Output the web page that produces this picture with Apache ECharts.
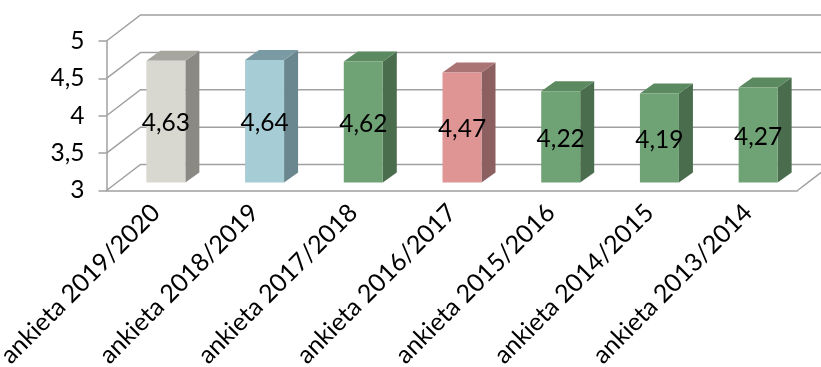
<!DOCTYPE html>
<html><head><meta charset="utf-8">
<script src="https://cdn.jsdelivr.net/npm/echarts@6/dist/echarts.min.js"></script>
<style>html,body{margin:0;padding:0;background:#fff}#c{width:821px;height:367px}</style>
</head><body><div id="c"></div>
<script>
const categories = ['ankieta 2019/2020','ankieta 2018/2019','ankieta 2017/2018','ankieta 2016/2017','ankieta 2015/2016','ankieta 2014/2015','ankieta 2013/2014'];
const values = [4.63, 4.64, 4.62, 4.47, 4.22, 4.19, 4.27];
const yTicks = [3, 3.5, 4, 4.5, 5];

// styles
const FRONT = ['#D8D8D0','#A6CCD6','#6FA274','#E09595','#6FA274','#6FA274','#6FA274'];
const TOPC  = ['#A6A59E','#7B9BA4','#5C8A60','#AB7474','#5C8A60','#5C8A60','#5C8A60'];
const SIDE  = ['#8A8984','#6A8790','#4A6D4D','#8C6060','#4A6D4D','#4A6D4D','#4A6D4D'];
const WALL_DX = 34, WALL_DY = -26;
const BAR_DX = 10, BAR_DY = -8;
const DEPTH_DX = 14, DEPTH_DY = -10;
const BAR_W = 39;
const LINE = '#a0a0a0';
const FONT = 'Lato';

const fmt = v => v.toFixed(2).replace('.', ',');

const chart = echarts.init(document.getElementById('c'));
chart.setOption({
  animation: false,
  backgroundColor: '#fff',
  grid: { left: 106.5, right: 23.5, top: 41, bottom: 176.5, containLabel: false, outerBoundsMode: 'none' },
  xAxis: {
    type: 'category', data: categories,
    axisLine: { lineStyle: { color: LINE, width: 1.5 } },
    axisTick: { length: 8, lineStyle: { color: LINE, width: 1.5 } },
    axisLabel: { rotate: 45, margin: 18, interval: 0, fontFamily: FONT, fontSize: 25, color: '#000' }
  },
  yAxis: {
    type: 'value', min: 3, max: 5, interval: 0.5,
    axisLine: { show: true, lineStyle: { color: LINE, width: 1.5 } },
    axisTick: { show: true, length: 8, lineStyle: { color: LINE, width: 1.5 } },
    splitLine: { show: false },
    axisLabel: { formatter: v => String(v).replace('.', ','), margin: 22, fontFamily: FONT, fontSize: 24.5, color: '#000' }
  },
  series: [
    {
      type: 'custom', z: 1, silent: true,
      data: yTicks.map(v => [0, v]),
      renderItem: (params, api) => {
        const cs = params.coordSys;
        const v = api.value(1);
        const y = api.coord([0, v])[1];
        const l = cs.x, r = cs.x + cs.width;
        const children = [{
          type: 'polyline',
          shape: { points: [[l, y], [l + WALL_DX, y + WALL_DY], [r + WALL_DX + 60, y + WALL_DY]] },
          style: { stroke: LINE, lineWidth: 1.5, fill: null }
        }];
        if (v === yTicks[0]) {
          children.push({ type: 'line', shape: { x1: r, y1: y, x2: r + WALL_DX, y2: y + WALL_DY },
            style: { stroke: LINE, lineWidth: 1.5 } });
        }
        return { type: 'group', children };
      }
    },
    {
      type: 'custom', z: 2, silent: true,
      data: values.map((v, i) => [i, v]),
      renderItem: (params, api) => {
        const i = api.value(0), v = api.value(1);
        const base = api.coord([i, yTicks[0]]);
        const top = api.coord([i, v]);
        const cx = base[0] + BAR_DX;
        const x0 = cx - BAR_W / 2, x1 = cx + BAR_W / 2;
        const yb = base[1] + BAR_DY, yt = top[1] + BAR_DY;
        const k = params.dataIndex;
        return {
          type: 'group',
          children: [
            { type: 'polygon', shape: { points: [[x1, yt], [x1 + DEPTH_DX, yt + DEPTH_DY], [x1 + DEPTH_DX, yb + DEPTH_DY], [x1, yb]] },
              style: { fill: SIDE[k] } },
            { type: 'polygon', shape: { points: [[x0, yt], [x1, yt], [x1 + DEPTH_DX, yt + DEPTH_DY], [x0 + DEPTH_DX, yt + DEPTH_DY]] },
              style: { fill: TOPC[k] } },
            { type: 'rect', shape: { x: x0, y: yt, width: BAR_W, height: yb - yt },
              style: { fill: FRONT[k] } },
            { type: 'text', style: { text: fmt(v), x: cx, y: (yt + yb) / 2 + 2,
                textAlign: 'center', textVerticalAlign: 'middle', align: 'center', verticalAlign: 'middle',
                fontFamily: FONT, fontSize: 24.5, fill: '#000' } }
          ]
        };
      }
    }
  ]
});
</script></body></html>
